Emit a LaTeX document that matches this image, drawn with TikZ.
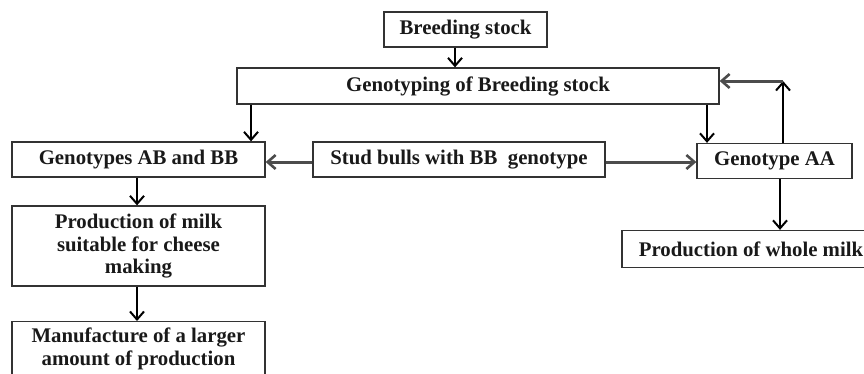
\documentclass[tikz,border=0pt]{standalone}
\usepackage{fontspec}
\setmainfont{Liberation Serif}
\usetikzlibrary{arrows.meta}
\begin{document}
\begin{tikzpicture}[x=1pt,y=-1pt,
  box/.style={draw=black!80, line width=1.3pt, rectangle, inner sep=0pt, align=center,
    font=\bfseries\fontsize{20.8}{22.5}\selectfont, text=black!90},
  lbl/.style={inner sep=0pt, align=center, font=\bfseries\fontsize{20.8}{22.5}\selectfont, text=black!90},
  varr/.style={draw=black, line width=2pt, -{Straight Barb[length=8pt,width=14pt,line width=2pt]}},
  harr/.style={draw=black!70, line width=3pt, -{Straight Barb[length=8pt,width=14pt,line width=2.6pt]}}]
\useasboundingbox (0,0) rectangle (864,373);
\clip (0,0) rectangle (864,373);
\node[box, minimum width=163, minimum height=35] (bs) at (465.5,29.5) {Breeding stock};
\node[box, minimum width=482, minimum height=36] (gen) at (478,86) {Genotyping of Breeding stock};
\node[box, minimum width=253, minimum height=35] (ab) at (138.5,159.5) {Genotypes AB and BB};
\node[box, minimum width=292, minimum height=35] (stud) at (459,159.5) {Stud bulls with BB\ \ genotype};
\node[box, minimum width=155, minimum height=35] (aa) at (774.5,161) {Genotype AA};
\node[box, minimum width=258, minimum height=37] (whole) at (751,249) {Production of whole milk};
\node[box, minimum width=253, minimum height=80] (pm) at (138.5,246) {Production of milk\\suitable for cheese\\making};
\node[box, minimum width=253, minimum height=80, anchor=north] (mf) at (138.5,321) {};
\node[lbl] (mft) at (138.5,349) {Manufacture of a larger\\amount of production};
\coordinate (c) at (783,81);
% connectors
\draw[varr] (bs.south -| 455,0) -- (gen.north -| 455,0);
\draw[varr] (gen.south -| 251,0) -- (ab.north -| 251,0);
\draw[varr] (gen.south -| 707,0) -- (aa.north -| 707,0);
\draw[harr] (stud.west |- 0,162) -- (ab.east |- 0,162);
\draw[harr] (stud.east |- 0,162) -- (aa.west |- 0,162);
\draw[varr] (aa.north -| c) -- (c);
\draw[harr] (c) -- (gen.east |- c);
\draw[varr] (aa.south -| 780,0) -- (whole.north -| 780,0);
\draw[varr] (ab.south -| 137,0) -- (pm.north -| 137,0);
\draw[varr] (pm.south -| 137,0) -- (mf.north -| 137,0);
\end{tikzpicture}
\end{document}
